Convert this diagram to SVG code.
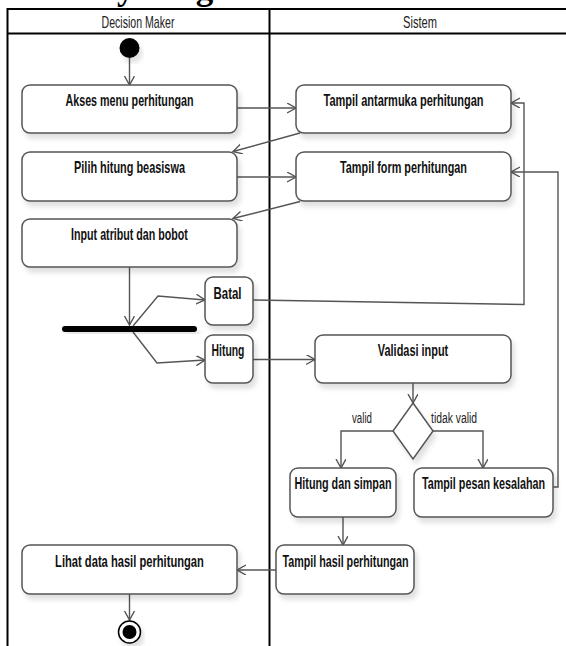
<svg xmlns="http://www.w3.org/2000/svg" width="566" height="646" viewBox="0 0 566 646">
<style>
.lane{stroke:#000;stroke-width:2;fill:none}
.hdr{font-family:"Liberation Sans",Arial,sans-serif;font-size:16px;fill:#222;text-anchor:middle}
.box{fill:#fff;stroke:#555;stroke-width:1.5}
.lbl{font-family:"Liberation Sans",Arial,sans-serif;font-size:16px;font-weight:bold;fill:#111;text-anchor:middle}
.guard{font-family:"Liberation Sans",Arial,sans-serif;font-size:15px;fill:#222;text-anchor:middle}
.con{fill:none;stroke:#555;stroke-width:1.4}
.title{font-family:"Liberation Serif","Times New Roman",serif;font-size:35px;font-weight:bold;fill:#000}
</style>
<defs>
<filter id="sh" x="-10%" y="-10%" width="130%" height="140%">
<feDropShadow dx="3" dy="5" stdDeviation="2.5" flood-color="#000" flood-opacity="0.12"/>
</filter>
<marker id="arr" markerUnits="userSpaceOnUse" markerWidth="12" markerHeight="12" refX="9" refY="5" orient="auto">
<path d="M0,0 L9,5 L0,10" fill="none" stroke="#555" stroke-width="1.4"/>
</marker>
</defs>
<rect width="566" height="646" fill="#fff"/>
<text class="title" x="16" y="-1">Activity Diagram</text>
<g id="swimlanes">
<path class="lane" d="M7.5 646 V9 H570 M7.5 33.5 H570 M269.5 9 V646"/>
<text class="hdr" transform="translate(138 28) scale(0.662 1)">Decision Maker</text>
<text class="hdr" transform="translate(420 28) scale(0.695 1)">Sistem</text>
</g>
<g id="connectors">
<path class="con" d="M129.5 58 V85" marker-end="url(#arr)"/>
<path class="con" d="M237 108 H296" marker-end="url(#arr)"/>
<path class="con" d="M300 133 L233 151.5" marker-end="url(#arr)"/>
<path class="con" d="M237 177 H296" marker-end="url(#arr)"/>
<path class="con" d="M300 201.5 L233 218.5" marker-end="url(#arr)"/>
<path class="con" d="M129.5 267 V325" marker-end="url(#arr)"/>
<path class="con" d="M133 326 L158 296 L205 300" marker-end="url(#arr)"/>
<path class="con" d="M133 332 L157 363 L205 360" marker-end="url(#arr)"/>
<path class="con" d="M253 300 L524 304.5 V103 H511" marker-end="url(#arr)"/>
<path class="con" d="M253 359.5 H315" marker-end="url(#arr)"/>
<path class="con" d="M413 383 V403" marker-end="url(#arr)"/>
<path class="con" d="M394 431 H341 V468" marker-end="url(#arr)"/>
<path class="con" d="M433 431 H483 V468" marker-end="url(#arr)"/>
<path class="con" d="M553 487 H558 V172 H511" marker-end="url(#arr)"/>
<path class="con" d="M343 517 V545" marker-end="url(#arr)"/>
<path class="con" d="M276 570 H237" marker-end="url(#arr)"/>
<path class="con" d="M129.5 594 V620" marker-end="url(#arr)"/>
</g>
<g id="start"><circle cx="129.5" cy="48" r="10" fill="#000" filter="url(#sh)"/></g>
<g id="akses"><rect class="box" x="22" y="85" width="215" height="48" rx="8" filter="url(#sh)"/><text class="lbl" transform="translate(129.5 106) scale(0.670 1)">Akses menu perhitungan</text></g>
<g id="tampil-antarmuka"><rect class="box" x="296" y="85" width="215" height="48" rx="8" filter="url(#sh)"/><text class="lbl" transform="translate(403.5 106) scale(0.689 1)">Tampil antarmuka perhitungan</text></g>
<g id="pilih"><rect class="box" x="22" y="152" width="215" height="49" rx="8" filter="url(#sh)"/><text class="lbl" transform="translate(129.5 173) scale(0.682 1)">Pilih hitung beasiswa</text></g>
<g id="tampil-form"><rect class="box" x="296" y="152" width="215" height="49" rx="8" filter="url(#sh)"/><text class="lbl" transform="translate(403.5 173) scale(0.679 1)">Tampil form perhitungan</text></g>
<g id="input"><rect class="box" x="22" y="219" width="215" height="48" rx="8" filter="url(#sh)"/><text class="lbl" transform="translate(129.5 240) scale(0.668 1)">Input atribut dan bobot</text></g>
<g id="fork"><rect x="62" y="326" width="135" height="6" rx="3" fill="#000" filter="url(#sh)"/></g>
<g id="batal"><rect class="box" x="205" y="277" width="48" height="48" rx="8" filter="url(#sh)"/><text class="lbl" transform="translate(227.5 299) scale(0.716 1)">Batal</text></g>
<g id="hitung"><rect class="box" x="205" y="335" width="48" height="48" rx="8" filter="url(#sh)"/><text class="lbl" transform="translate(228 356) scale(0.65 1)">Hitung</text></g>
<g id="validasi"><rect class="box" x="315" y="335" width="196" height="48" rx="8" filter="url(#sh)"/><text class="lbl" transform="translate(413 356) scale(0.683 1)">Validasi input</text></g>
<g id="decision"><path class="box" d="M413 403 L433 431 L413 459 L393 431 Z" filter="url(#sh)"/>
<text class="guard" transform="translate(362 423) scale(0.649 1)">valid</text>
<text class="guard" transform="translate(454 423) scale(0.69 1)">tidak valid</text></g>
<g id="hitung-simpan"><rect class="box" x="290" y="468" width="106" height="49" rx="8" filter="url(#sh)"/><text class="lbl" transform="translate(343 489) scale(0.674 1)">Hitung dan simpan</text></g>
<g id="tampil-pesan"><rect class="box" x="414" y="468" width="139" height="49" rx="8" filter="url(#sh)"/><text class="lbl" transform="translate(483.5 489) scale(0.674 1)">Tampil pesan kesalahan</text></g>
<g id="tampil-hasil"><rect class="box" x="276" y="545" width="138" height="49" rx="8" filter="url(#sh)"/><text class="lbl" transform="translate(345.5 567) scale(0.671 1)">Tampil hasil perhitungan</text></g>
<g id="lihat"><rect class="box" x="22" y="545" width="215" height="49" rx="8" filter="url(#sh)"/><text class="lbl" transform="translate(129.5 567) scale(0.698 1)">Lihat data hasil perhitungan</text></g>
<g id="end"><circle cx="129.5" cy="632" r="11" fill="#fff" stroke="#000" stroke-width="1.5" filter="url(#sh)"/><circle cx="129.5" cy="632" r="7" fill="#000"/></g>
</svg>
